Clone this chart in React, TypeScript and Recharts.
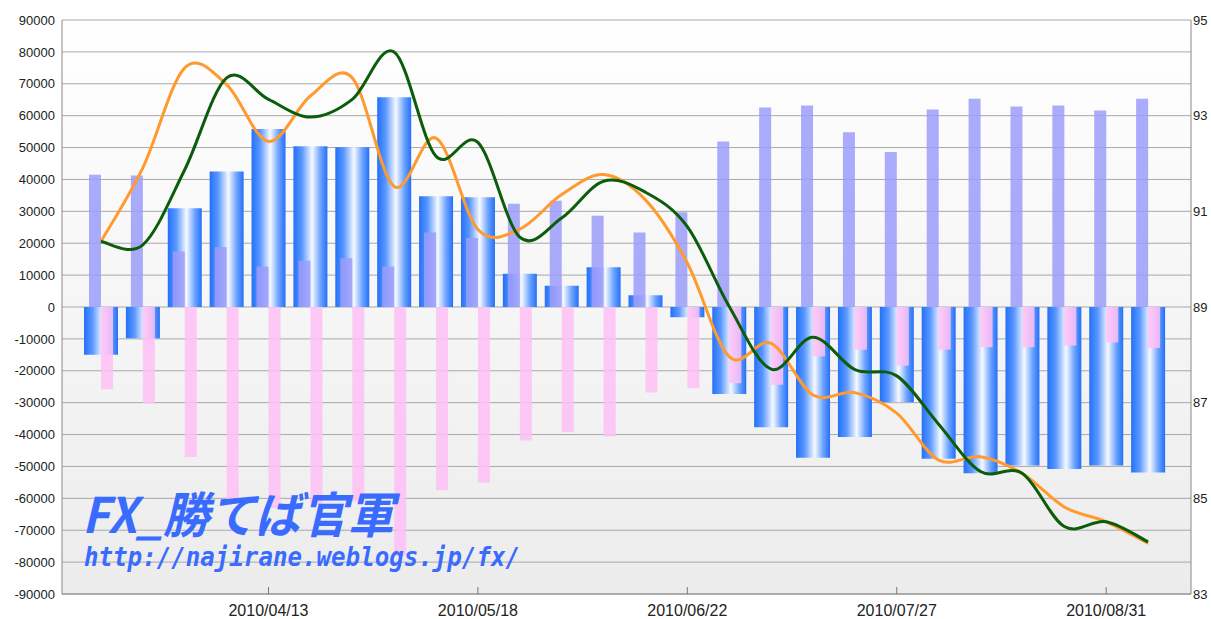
import React from 'react'
import {
  ComposedChart,
  Bar,
  Line,
  XAxis,
  YAxis,
  CartesianGrid,
} from 'recharts'

// weekly positions, 2010/03/16 .. 2010/09/07
const dates = [
  '2010/03/16', '2010/03/23', '2010/03/30', '2010/04/06', '2010/04/13', '2010/04/20',
  '2010/04/27', '2010/05/04', '2010/05/11', '2010/05/18', '2010/05/25', '2010/06/01',
  '2010/06/08', '2010/06/15', '2010/06/22', '2010/06/29', '2010/07/06', '2010/07/13',
  '2010/07/20', '2010/07/27', '2010/08/03', '2010/08/10', '2010/08/17', '2010/08/24',
  '2010/08/31', '2010/09/07',
]
const dateTicks = ['2010/04/13', '2010/05/18', '2010/06/22', '2010/07/27', '2010/08/31']

const netPos = [
  -15000, -9800, 31000, 42500, 55800, 50400, 50100, 65800, 34700, 34400, 10400, 6700, 12500,
  3700, -3200, -27300, -37700, -47300, -40800, -29900, -47600, -52100, -49700, -50800, -49700, -51900,
]
const longPos = [
  41500, 41200, 17400, 18800, 12700, 14500, 15300, 12700, 23400, 21600, 32400, 33300, 28600,
  23400, 29700, 51900, 62600, 63200, 54800, 48600, 61900, 65300, 62900, 63200, 61600, 65300,
]
const shortPos = [
  -25800, -30200, -47000, -61000, -63000, -62000, -61000, -78000, -57500, -55100, -41900, -39300, -40600,
  -26800, -25500, -23900, -24400, -15500, -13400, -18400, -13400, -12600, -12600, -12100, -11100, -12900,
]
const greenRate = [
  90.37, 90.3, 91.87, 93.79, 93.34, 92.97, 93.34, 94.33, 92.15, 92.44, 90.46, 90.86, 91.63,
  91.4, 90.68, 89.01, 87.7, 88.37, 87.69, 87.56, 86.55, 85.56, 85.52, 84.41, 84.51, 84.09,
]
const orangeRate = [
  90.37, 91.91, 94.0, 93.65, 92.46, 93.41, 93.79, 91.52, 92.53, 90.62, 90.63, 91.35, 91.77,
  91.24, 89.92, 87.96, 88.24, 87.16, 87.21, 86.78, 85.8, 85.87, 85.52, 84.82, 84.51, 84.06,
]

const leftTicks = [
  -90000, -80000, -70000, -60000, -50000, -40000, -30000, -20000, -10000, 0,
  10000, 20000, 30000, 40000, 50000, 60000, 70000, 80000, 90000,
]
const rightTicks = [83, 85, 87, 89, 91, 93, 95]

const data = dates.map((d, i) => ({
  date: d,
  net: netPos[i],
  long: longPos[i],
  short: shortPos[i],
  green: greenRate[i],
  orange: orangeRate[i],
}))

// catmull-rom style smoothing, like the old flash charts
const smoothCurve = (context: any) => {
  let pts: number[][] = []
  return {
    areaStart() {},
    areaEnd() {},
    lineStart() {
      pts = []
    },
    point(x: number, y: number) {
      pts.push([+x, +y])
    },
    lineEnd() {
      if (!pts.length) return
      context.moveTo(pts[0][0], pts[0][1])
      for (let i = 0; i < pts.length - 1; i++) {
        const p0 = pts[i - 1] || pts[i]
        const p1 = pts[i]
        const p2 = pts[i + 1]
        const p3 = pts[i + 2] || p2
        const t = 1 / 6
        context.bezierCurveTo(
          p1[0] + (p2[0] - p0[0]) * t,
          p1[1] + (p2[1] - p0[1]) * t,
          p2[0] - (p3[0] - p1[0]) * t,
          p2[1] - (p3[1] - p1[1]) * t,
          p2[0],
          p2[1]
        )
      }
    },
  }
}

const axisTick = { fill: '#222', fontSize: 13, fontFamily: 'Liberation Sans' }
const pad = { left: 18, right: 22 }

export default function App() {
  return (
    <div style={{ position: 'absolute', left: 0, top: 0, width: 1211, height: 619, background: '#fff' }}>
      <ComposedChart
        width={1211}
        height={619}
        data={data}
        margin={{ top: 20, right: 0, bottom: 0, left: 0 }}
        barGap={0}
      >
        <defs>
          <linearGradient id="bgGrad" x1="0" y1="0" x2="0" y2="1">
            <stop offset="0%" stopColor="#ffffff" />
            <stop offset="100%" stopColor="#ececec" />
          </linearGradient>
          <linearGradient id="blueGrad" x1="0" y1="0" x2="1" y2="0">
            <stop offset="0%" stopColor="#2470f8" />
            <stop offset="25%" stopColor="#5a98ff" />
            <stop offset="55%" stopColor="#f6f9ff" />
            <stop offset="80%" stopColor="#6aa2ff" />
            <stop offset="100%" stopColor="#2470f8" />
          </linearGradient>
        </defs>
        <CartesianGrid
          xAxisId="main"
          yAxisId="left"
          vertical={false}
          stroke="#a8a8a8"
          fill="url(#bgGrad)"
          fillOpacity={1}
        />
        <XAxis
          xAxisId="main"
          dataKey="date"
          height={25}
          padding={pad}
          ticks={dateTicks}
          interval={0}
          tickSize={-7}
          tickMargin={18}
          tickLine={{ stroke: '#777' }}
          tick={{ fill: '#222', fontSize: 16, fontFamily: 'Liberation Sans' }}
          axisLine={{ stroke: '#888' }}
        />
        <XAxis xAxisId="blue" dataKey="date" orientation="top" padding={pad} hide />
        <YAxis
          yAxisId="left"
          domain={[-90000, 90000]}
          ticks={leftTicks}
          interval={0}
          width={62}
          tickLine={false}
          tickSize={0}
          tickMargin={7}
          tick={axisTick}
          axisLine={{ stroke: '#888' }}
        />
        <YAxis
          yAxisId="right"
          orientation="right"
          domain={[83, 95]}
          ticks={rightTicks}
          interval={0}
          width={20}
          tickLine={false}
          tickSize={0}
          tickMargin={2}
          tick={axisTick}
          axisLine={{ stroke: '#888' }}
        />
        <Bar xAxisId="blue" yAxisId="left" dataKey="net" barSize={34} fill="url(#blueGrad)" isAnimationActive={false} />
        <Bar xAxisId="main" yAxisId="left" dataKey="long" barSize={12} fill="#9c9cfb" fillOpacity={0.85} isAnimationActive={false} />
        <Bar xAxisId="main" yAxisId="left" dataKey="short" barSize={12} fill="#ffbff6" fillOpacity={0.85} isAnimationActive={false} />
        <Line
          xAxisId="main"
          yAxisId="right"
          dataKey="orange"
          type={smoothCurve as any}
          stroke="#ff9a2e"
          strokeWidth={3}
          dot={false}
          activeDot={false}
          isAnimationActive={false}
        />
        <Line
          xAxisId="main"
          yAxisId="right"
          dataKey="green"
          type={smoothCurve as any}
          stroke="#0b5c0b"
          strokeWidth={3}
          dot={false}
          activeDot={false}
          isAnimationActive={false}
        />
      </ComposedChart>
      <svg
        width={1211}
        height={619}
        style={{ position: 'absolute', left: 0, top: 0, pointerEvents: 'none' }}
      >
        <text
          x={82}
          y={533}
          fontSize={49}
          fontWeight="bold"
          fontStyle="italic"
          fontFamily="'Noto Sans CJK JP', 'DejaVu Sans'"
          fill="#3a6bff"
          textLength={312}
          lengthAdjust="spacingAndGlyphs"
        >
          FX_勝てば官軍
        </text>
        <text
          x={84}
          y={566}
          fontSize={26}
          fontWeight="bold"
          fontStyle="italic"
          fontFamily="'DejaVu Sans Mono', monospace"
          fill="#3a6bff"
          textLength={436}
          lengthAdjust="spacingAndGlyphs"
        >
          http://najirane.weblogs.jp/fx/
        </text>
      </svg>
    </div>
  )
}
